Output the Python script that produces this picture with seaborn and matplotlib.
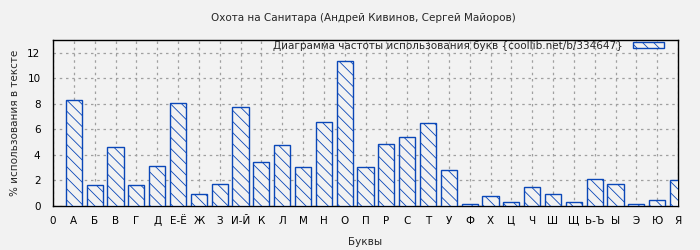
import matplotlib
matplotlib.use("Agg")
import matplotlib.pyplot as plt
import seaborn as sns
import pandas as pd
from matplotlib.patches import Patch

letters = ["А", "Б", "В", "Г", "Д", "Е-Ё", "Ж", "З", "И-Й", "К", "Л", "М", "Н", "О", "П",
           "Р", "С", "Т", "У", "Ф", "Х", "Ц", "Ч", "Ш", "Щ", "Ь-Ъ", "Ы", "Э", "Ю", "Я"]
values = [8.34, 1.64, 4.60, 1.64, 3.12, 8.10, 0.93, 1.76, 7.79, 3.43, 4.75, 3.04, 6.55, 11.38, 3.06,
          4.83, 5.38, 6.47, 2.81, 0.16, 0.78, 0.31, 1.48, 0.93, 0.31, 2.10, 1.71, 0.16, 0.47, 2.03]
title = "Охота на Санитара (Андрей Кивинов, Сергей Майоров)"
legend_label = "Диаграмма частоты использования букв {coollib.net/b/334647}"
xlabel = "Буквы"
ylabel = "% использования в тексте"

bg = "#f2f2f2"
blue = "#0a47b8"
fs = 7.5

sns.set_style("white")
plt.rcParams["font.family"] = ["DejaVu Sans"]
plt.rcParams["font.size"] = fs
plt.rcParams["hatch.color"] = blue
plt.rcParams["hatch.linewidth"] = 0.6

df = pd.DataFrame({"letter": letters, "value": values})

fig = plt.figure(figsize=(7, 2.5), dpi=100, facecolor=bg)
ax = fig.add_axes([53 / 700, 44 / 250, 625 / 700, 166 / 250])
ax.set_facecolor(bg)

sns.barplot(data=df, x="letter", y="value", order=letters, ax=ax, color=bg,
            edgecolor=blue, linewidth=1.0, width=0.77, hatch="\\\\\\", zorder=3)
for p in ax.patches:
    p.set_facecolor(bg)
    p.set_edgecolor(blue)

ax.set_xlim(-1, 29)
ax.set_ylim(0, 13)
ax.set_xticks(range(-1, 30))
ax.set_xticklabels(["0"] + letters)
ax.set_yticks(range(0, 13, 2))
ax.grid(True, color="#a0a0a0", linestyle=(0, (2, 3)), linewidth=0.9, zorder=0)
ax.set_axisbelow(True)
for s in ax.spines.values():
    s.set_color("black")
    s.set_linewidth(1.0)
    s.set_visible(True)
ax.tick_params(axis="both", direction="out", length=3, width=0.8, colors="black",
               labelsize=fs, pad=4)
ax.tick_params(axis="y", direction="inout", length=6, pad=6)
ax.set_xlabel(xlabel, fontsize=fs, labelpad=8)
ax.set_ylabel(ylabel, fontsize=fs, labelpad=5)
fig.text(363 / 700, 1 - 18 / 250, title, ha="center", va="center", fontsize=fs)

handle = Patch(facecolor=bg, edgecolor=blue, hatch="\\\\\\", linewidth=1.0)
ax.legend([handle], [legend_label], loc="upper right", bbox_to_anchor=(0.978, 0.995),
          frameon=False, markerfirst=False, fontsize=fs, handlelength=3.0,
          handleheight=0.5, borderaxespad=0.0, handletextpad=1.0, borderpad=0.0)

fig.savefig("out.png", dpi=100, facecolor=bg)
